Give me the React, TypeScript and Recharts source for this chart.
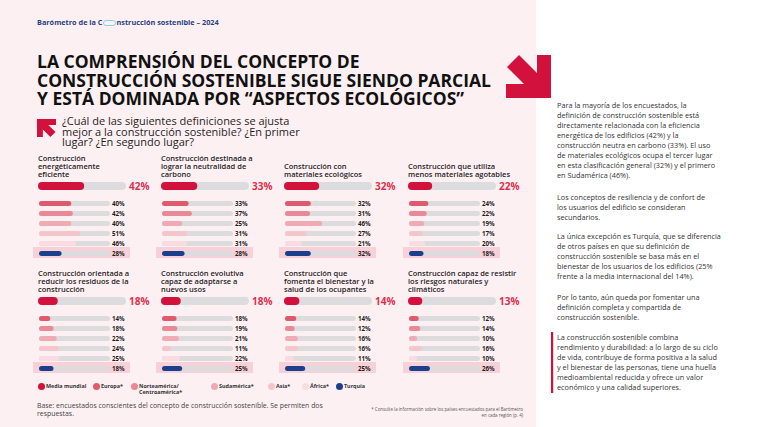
import React from 'react';
import { BarChart, Bar, XAxis, YAxis, Cell, LabelList } from 'recharts';

// ---------- DATA ----------
const definiciones: string[][] = [
  ['Construcción', 'energéticamente', 'eficiente'],
  ['Construcción destinada a', 'lograr la neutralidad de', 'carbono'],
  ['Construcción con', 'materiales ecológicos'],
  ['Construcción que utiliza', 'menos materiales agotables'],
  ['Construcción orientada a', 'reducir los residuos de la', 'construcción'],
  ['Construcción evolutiva', 'capaz de adaptarse a', 'nuevos usos'],
  ['Construcción que', 'fomenta el bienestar y la', 'salud de los ocupantes'],
  ['Construcción capaz de resistir', 'los riesgos naturales y', 'climáticos'],
];
const mediaMundial = [42, 33, 32, 22, 18, 18, 14, 13];
const europa = [40, 33, 32, 24, 14, 18, 14, 12];
const norteamerica = [42, 37, 31, 22, 18, 19, 12, 14];
const sudamerica = [40, 25, 46, 19, 22, 21, 16, 10];
const asia = [51, 31, 27, 17, 24, 11, 16, 16];
const africa = [46, 31, 21, 20, 25, 22, 11, 10];
const turquia = [28, 28, 32, 18, 18, 25, 25, 26];

const regionNames = ['Europa', 'Norteamérica/Centroamérica', 'Sudamérica', 'Asia', 'África', 'Turquía'];
const regionSeries = [europa, norteamerica, sudamerica, asia, africa, turquia];

const legendLabels = [
  ['Media mundial'],
  ['Europa*'],
  ['Norteamérica/', 'Centroamérica*'],
  ['Sudamérica*'],
  ['Asia*'],
  ['África*'],
  ['Turquía'],
];

// ---------- STYLE ----------
const FONT = '"Open Sans", "Noto Sans", sans-serif';
const RED = '#d2123c';
const LABEL_RED = '#de2f4e';
const TRACK = '#dcdcdf';
const REGION_COLORS = ['#e05a6d', '#e98896', '#f0aab5', '#f5c5cc', '#f9dce1', '#1c3f8d'];
const LEGEND_COLORS = [RED, '#e05a6d', '#e98896', '#eeaab5', '#f5c5cc', '#f9dce1', '#1c3f8d'];
const LEGEND_X = [41, 96, 134, 214, 271, 305, 339];
const PANEL_COLS = [38, 161, 284, 408];
const PANEL_ROWS = [154, 269];
const BIG_W = 88;
const SMALL_W = 71;
const BIG_RIGHT = 34;
const SMALL_RIGHT = 28;
const BIG_PAD = 5;

const BigLabel = (props: any) => {
  const y = Number(props.y);
  const h = Number(props.height);
  return (
    <text x={BIG_W + 3} y={y + h / 2} dy="0.36em" fontSize={10} fontWeight={700} fill={LABEL_RED} fontFamily={FONT}>
      {props.value}%
    </text>
  );
};

const SmallLabel = (props: any) => {
  const y = Number(props.y);
  const h = Number(props.height);
  return (
    <text x={SMALL_W + 2} y={y + h / 2} dy="0.36em" fontSize={6.2} fontWeight={700} fill="#1e1e1e" fontFamily={FONT}>
      {props.value}%
    </text>
  );
};

function Panel({ idx }: { idx: number }) {
  const x0 = PANEL_COLS[idx % 4];
  const y0 = PANEL_ROWS[Math.floor(idx / 4)];
  const title = definiciones[idx];
  const big = [{ name: 'Media mundial', value: mediaMundial[idx] }];
  const small = regionNames.map((n, i) => ({ name: n, value: regionSeries[i][idx] }));
  return (
    <>
      <div
        style={{
          position: 'absolute',
          left: x0,
          top: y0 + (title.length === 2 ? 8 : 0),
          fontFamily: FONT,
          fontSize: 7.5,
          lineHeight: '8px',
          fontWeight: 600,
          color: '#1f1f1f',
          whiteSpace: 'nowrap',
        }}
      >
        {title.map((t, i) => (
          <div key={i}>{t}</div>
        ))}
      </div>
      <div style={{ position: 'absolute', left: x0, top: y0 + 28 - BIG_PAD }}>
        <BarChart
          width={BIG_W + BIG_RIGHT}
          height={9 + BIG_PAD * 2}
          data={big}
          layout="vertical"
          margin={{ top: BIG_PAD, right: BIG_RIGHT, bottom: BIG_PAD, left: 0 }}
          barSize={9}
          style={{ overflow: 'visible' }}
        >
          <XAxis type="number" hide domain={[0, 80]} />
          <YAxis type="category" dataKey="name" hide width={0} />
          <Bar dataKey="value" fill={RED} background={{ fill: TRACK, radius: 4.5 } as any} radius={4.5} isAnimationActive={false}>
            <LabelList dataKey="value" content={BigLabel} />
          </Bar>
        </BarChart>
      </div>
      <div
        style={{
          position: 'absolute',
          left: x0 - 5,
          top: y0 + 93,
          width: 97,
          height: 11,
          background: '#f7d0d8',
        }}
      />
      <div style={{ position: 'absolute', left: x0 + 1, top: y0 + 44.3 }}>
        <BarChart
          width={SMALL_W + SMALL_RIGHT}
          height={60}
          data={small}
          layout="vertical"
          margin={{ top: 0, right: SMALL_RIGHT, bottom: 0, left: 0 }}
          barSize={5}
          style={{ overflow: 'visible' }}
        >
          <XAxis type="number" hide domain={[0, 88]} />
          <YAxis type="category" dataKey="name" hide width={0} />
          <Bar dataKey="value" background={{ fill: TRACK, radius: 2.5 } as any} radius={2.5} isAnimationActive={false}>
            {small.map((d, i) => (
              <Cell key={d.name} fill={REGION_COLORS[i]} />
            ))}
            <LabelList dataKey="value" content={SmallLabel} />
          </Bar>
        </BarChart>
      </div>
    </>
  );
}

const rightParas: { top: number; lines: string[] }[] = [
  {
    top: 105,
    lines: [
      'Para la mayoría de los encuestados, la',
      'definición de construcción sostenible está',
      'directamente relacionada con la eficiencia',
      'energética de los edificios (42%) y la',
      'construcción neutra en carbono (33%). El uso',
      'de materiales ecológicos ocupa el tercer lugar',
      'en esta clasificación general (32%) y el primero',
      'en Sudamérica (46%).',
    ],
  },
  {
    top: 197,
    lines: ['Los conceptos de resiliencia y de confort de', 'los usuarios del edificio se consideran', 'secundarios.'],
  },
  {
    top: 236,
    lines: [
      'La única excepción es Turquía, que se diferencia',
      'de otros países en que su definición de',
      'construcción sostenible se basa más en el',
      'bienestar de los usuarios de los edificios (25%',
      'frente a la media internacional del 14%).',
    ],
  },
  {
    top: 297,
    lines: ['Por lo tanto, aún queda por fomentar una', 'definición completa y compartida de', 'construcción sostenible.'],
  },
  {
    top: 337,
    lines: [
      'La construcción sostenible combina',
      'rendimiento y durabilidad: a lo largo de su ciclo',
      'de vida, contribuye de forma positiva a la salud',
      'y el bienestar de las personas, tiene una huella',
      'medioambiental reducida y ofrece un valor',
      'económico y una calidad superiores.',
    ],
  },
];

export default function App() {
  return (
    <div
      style={{
        position: 'absolute',
        left: 0,
        top: 0,
        width: 760,
        height: 427,
        overflow: 'hidden',
        background: '#ffffff',
        fontFamily: FONT,
      }}
    >
      <div style={{ position: 'absolute', left: 0, top: 0, width: 536, height: 427, background: '#fdf0f3' }} />

      {/* header */}
      <div
        style={{
          position: 'absolute',
          left: 37,
          top: 17,
          fontSize: 7.3,
          fontWeight: 700,
          color: '#2b3f80',
          whiteSpace: 'nowrap',
          lineHeight: '11px',
        }}
      >
        Barómetro de la C
        <span
          style={{
            display: 'inline-block',
            width: 11,
            height: 4,
            border: '1px solid #8fd0e0',
            borderRadius: 3,
            verticalAlign: 'middle',
            margin: '0 0.5px',
          }}
        />
        nstrucción sostenible – 2024
      </div>

      {/* title */}
      <div
        style={{
          position: 'absolute',
          left: 37,
          top: 52,
          fontSize: 17.5,
          fontWeight: 700,
          lineHeight: '18.6px',
          color: '#111',
          whiteSpace: 'nowrap',
        }}
      >
        <div>LA COMPRENSIÓN DEL CONCEPTO DE</div>
        <div>CONSTRUCCIÓN SOSTENIBLE SIGUE SIENDO PARCIAL</div>
        <div>Y ESTÁ DOMINADA POR “ASPECTOS ECOLÓGICOS”</div>
      </div>

      {/* arrows and accent line */}
      <svg style={{ position: 'absolute', left: 0, top: 0 }} width={760} height={427}>
        <polygon points="519,55 537,73 537,55 551,55 551,98 506,98 506,84 524,84 507,67" fill="#d2123c" />
        <polygon
          points={[
            [13.4, 18],
            [5.9, 10.5],
            [5.9, 18],
            [0, 18],
            [0, 0],
            [19, 0],
            [19, 5.9],
            [11.3, 5.9],
            [18.5, 13],
          ]
            .map(([x, y]) => `${37 + x},${119 + y}`)
            .join(' ')}
          fill="#d2123c"
        />
        <rect x={551} y={332} width={2.2} height={61} fill="#d2123c" />
      </svg>

      {/* question */}
      <div
        style={{
          position: 'absolute',
          left: 62,
          top: 116,
          fontSize: 11,
          fontWeight: 500,
          lineHeight: '10.6px',
          color: '#1f1f1f',
          whiteSpace: 'nowrap',
        }}
      >
        <div>¿Cuál de las siguientes definiciones se ajusta</div>
        <div>mejor a la construcción sostenible? ¿En primer</div>
        <div>lugar? ¿En segundo lugar?</div>
      </div>

      {definiciones.map((_, i) => (
        <Panel key={i} idx={i} />
      ))}

      {/* legend */}
      {legendLabels.map((lab, i) => (
        <React.Fragment key={i}>
          <div
            style={{
              position: 'absolute',
              left: LEGEND_X[i] - 3.5,
              top: 382.5,
              width: 7,
              height: 7,
              borderRadius: '50%',
              background: LEGEND_COLORS[i],
            }}
          />
          <div
            style={{
              position: 'absolute',
              left: LEGEND_X[i] + 5,
              top: 382.8,
              fontSize: 5.4,
              fontWeight: 700,
              lineHeight: '6.5px',
              color: '#333',
              whiteSpace: 'nowrap',
            }}
          >
            {lab.map((l, j) => (
              <div key={j}>{l}</div>
            ))}
          </div>
        </React.Fragment>
      ))}

      {/* footer */}
      <div
        style={{
          position: 'absolute',
          left: 37,
          top: 401.5,
          fontSize: 6.9,
          lineHeight: '8.5px',
          color: '#444',
          whiteSpace: 'nowrap',
        }}
      >
        <div>Base: encuestados conscientes del concepto de construcción sostenible. Se permiten dos</div>
        <div>respuestas.</div>
      </div>
      <div
        style={{
          position: 'absolute',
          right: 760 - 523,
          top: 406,
          fontSize: 4.4,
          lineHeight: '6px',
          color: '#555',
          textAlign: 'right',
          whiteSpace: 'nowrap',
        }}
      >
        <div>* Consulte la información sobre los países encuestados para el Barómetro</div>
        <div>en cada región (p. 4)</div>
      </div>

      {/* right column */}
      {rightParas.map((p, i) => (
        <div
          key={i}
          style={{
            position: 'absolute',
            left: 557,
            top: p.top - 5,
            fontSize: 7.3,
            lineHeight: '10px',
            color: '#333',
            whiteSpace: 'nowrap',
          }}
        >
          {p.lines.map((l, j) => (
            <div key={j}>{l}</div>
          ))}
        </div>
      ))}
    </div>
  );
}
